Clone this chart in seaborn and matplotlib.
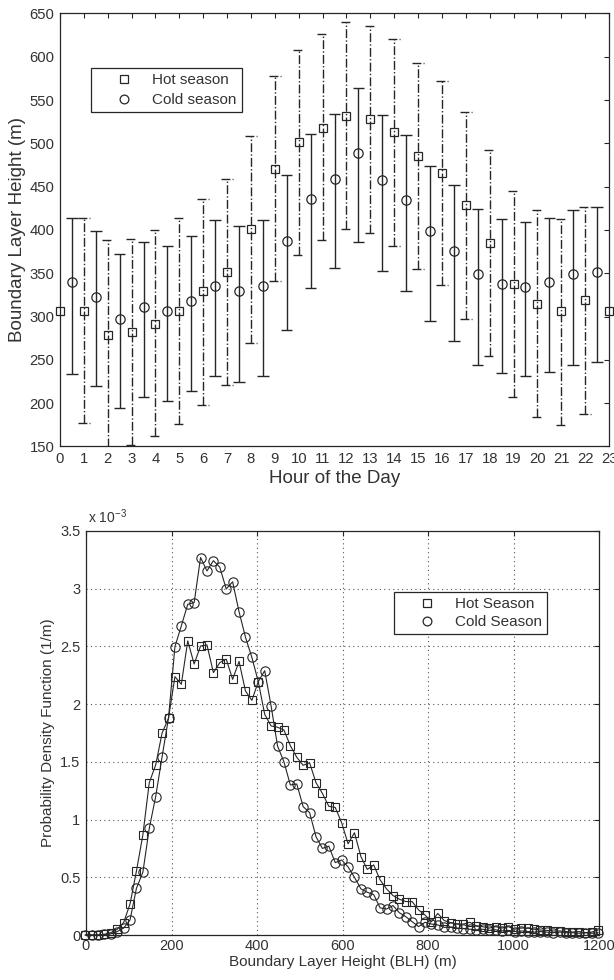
import numpy as np
import matplotlib
matplotlib.use("Agg")
import matplotlib.pyplot as plt
from matplotlib.lines import Line2D
from matplotlib.ticker import FuncFormatter
import seaborn as sns

nan = np.nan

# ---- Diurnal boundary layer height (m): mean and error-bar limits ----
hours_hot = list(range(24))
hot_mean = [306, 307, 279, 282, 292, 306, 329, 352, 401, 470, 502, 518,
            532, 528, 513, 486, 466, 429, 385, 338, 315, 306, 319, 307]
hot_low = [nan, 177, 149, 152, 162, 176, 198, 221, 270, 341, 371, 388,
           401, 397, 382, 355, 336, 297, 254, 207, 184, 175, 188, nan]
hot_high = [nan, 414, 388, 390, 400, 414, 436, 459, 508, 578, 608, 626,
            640, 636, 620, 593, 572, 536, 492, 445, 423, 413, 427, nan]

hours_cold = [h + 0.5 for h in range(23)]
cold_mean = [340, 323, 297, 311, 306, 318, 335, 330, 335, 387, 436, 459,
             489, 458, 435, 399, 376, 349, 338, 334, 340, 349, 352]
cold_low = [234, 220, 194, 207, 203, 214, 231, 225, 231, 284, 333, 356,
            386, 353, 330, 295, 272, 244, 235, 231, 236, 244, 248]
cold_high = [414, 399, 372, 386, 382, 393, 411, 405, 411, 463, 511, 534,
             564, 533, 510, 474, 452, 424, 413, 409, 414, 423, 427]

hour_ticks = list(range(24))
blh_ticks = list(range(150, 651, 50))

# ---- PDF of boundary layer height, in units of 1e-3 per metre ----
blh_bins = np.arange(-2, 1200, 15)
hot_pdf = [0.0,
           0.0, 0.0, 0.005, 0.02, 0.05, 0.107, 0.269, 0.555, 0.867, 1.32,
           1.473, 1.75, 1.878, 2.238, 2.172, 2.548, 2.348, 2.504, 2.513, 2.273,
           2.36, 2.39, 2.215, 2.37, 2.114, 2.033, 2.195, 1.912, 1.811, 1.80,
           1.776, 1.64, 1.54, 1.47, 1.492, 1.32, 1.227, 1.115, 1.105, 0.973,
           0.79, 0.886, 0.68, 0.568, 0.607, 0.477, 0.40, 0.342, 0.31, 0.29,
           0.289, 0.217, 0.173, 0.115, 0.187, 0.125, 0.107, 0.095, 0.095, 0.11,
           0.078, 0.072, 0.06, 0.072, 0.06, 0.072, 0.05, 0.06, 0.06, 0.05,
           0.043, 0.04, 0.035, 0.035, 0.03, 0.026, 0.03, 0.02, 0.025, 0.043]
cold_pdf = [0.0,
            0.0, 0.0, 0.005, 0.01, 0.03, 0.06, 0.13, 0.405, 0.543, 0.924,
            1.199, 1.545, 1.88, 2.498, 2.678, 2.865, 2.88, 3.27, 3.154, 3.243,
            3.186, 2.998, 3.06, 2.80, 2.58, 2.405, 2.195, 2.29, 1.984, 1.638,
            1.50, 1.30, 1.308, 1.112, 1.06, 0.852, 0.75, 0.77, 0.627, 0.65,
            0.59, 0.50, 0.40, 0.37, 0.35, 0.235, 0.225, 0.255, 0.193, 0.159,
            0.115, 0.073, 0.11, 0.095, 0.087, 0.066, 0.07, 0.06, 0.055, 0.05,
            0.045, 0.05, 0.04, 0.045, 0.035, 0.04, 0.03, 0.035, 0.03, 0.025,
            0.03, 0.025, 0.02, 0.025, 0.02, 0.02, 0.015, 0.02, 0.015, 0.02]
pdf_xticks = list(range(0, 1201, 200))
pdf_yticks = [0, 0.5, 1, 1.5, 2, 2.5, 3, 3.5]

# ---- style ----
sns.set_theme(style="white")
plt.rcParams["font.family"] = ["Liberation Sans", "DejaVu Sans"]
plt.rcParams["mathtext.default"] = "regular"

INK = "#262626"
TXT = "#333333"
MS = 6.3

fig = plt.figure(figsize=(6.14, 9.80), dpi=100)
ax1 = fig.add_axes([60 / 614, (980 - 446.5) / 980, 549 / 614, 433 / 980])
ax2 = fig.add_axes([86 / 614, (980 - 935) / 980, 513 / 614, 404 / 980])


def style_axes(ax, labelsize, xpad=4):
    ax.tick_params(direction="in", top=True, right=True, length=3.6,
                   width=0.8, colors=INK, labelcolor=TXT,
                   labelsize=labelsize, pad=4)
    ax.tick_params(axis="x", pad=xpad)
    for sp in ax.spines.values():
        sp.set_visible(True)
        sp.set_color(INK)
        sp.set_linewidth(0.9)


# ---- top panel: hourly means with error bars ----
cap = 0.24
hx = np.array(hours_hot, float)
cx = np.array(hours_cold, float)
ax1.vlines(hx, hot_low, hot_high, colors=INK, linestyles="-.", lw=1.0, zorder=2)
ax1.hlines(hot_low, hx - cap, hx + cap, colors=INK, linestyles="-.", lw=1.0, zorder=2)
ax1.hlines(hot_high, hx - cap, hx + cap, colors=INK, linestyles="-.", lw=1.0, zorder=2)
ax1.vlines(cx, cold_low, cold_high, colors=INK, linestyles="-", lw=1.0, zorder=2)
ax1.hlines(cold_low, cx - cap, cx + cap, colors=INK, linestyles="-", lw=1.0, zorder=2)
ax1.hlines(cold_high, cx - cap, cx + cap, colors=INK, linestyles="-", lw=1.0, zorder=2)

sns.lineplot(x=hours_hot, y=hot_mean, ax=ax1, marker="s", linestyle="",
             markersize=MS, markerfacecolor="none", markeredgecolor=INK,
             markeredgewidth=0.9, color=INK, clip_on=False, zorder=3)
sns.lineplot(x=hours_cold, y=cold_mean, ax=ax1, marker="o", linestyle="",
             markersize=MS + 0.4, markerfacecolor="none", markeredgecolor=INK,
             markeredgewidth=0.9, color=INK, clip_on=False, zorder=3)

ax1.set_xlim(0, 23)
ax1.set_ylim(150, 650)
ax1.set_xticks(hour_ticks)
ax1.set_yticks(blh_ticks)
style_axes(ax1, 10.7)
ax1.set_xlabel("Hour of the Day", fontsize=13.5, color=TXT)
ax1.set_ylabel("Boundary Layer Height (m)", fontsize=13.5, color=TXT)
ax1.xaxis.set_label_coords(0.5, -0.055)
ax1.yaxis.set_label_coords(-0.062, 0.5)


def marker_handles():
    return [Line2D([], [], marker="s", ls="none", ms=MS, mfc="none",
                   mec=INK, mew=0.9),
            Line2D([], [], marker="o", ls="none", ms=MS, mfc="none",
                   mec=INK, mew=0.9)]


leg1 = ax1.legend(marker_handles(), ["Hot season", "Cold season"],
                  loc="upper left", bbox_to_anchor=(31 / 549, (446.5 - 68) / 433),
                  borderaxespad=0, frameon=True, fancybox=False, framealpha=1,
                  edgecolor=INK, fontsize=11, handlelength=3.7,
                  handletextpad=0.0, borderpad=0.32, labelspacing=0.4,
                  numpoints=1)
leg1.get_frame().set_linewidth(0.9)
for t in leg1.get_texts():
    t.set_color(TXT)

# ---- bottom panel: probability density functions ----
sns.lineplot(x=blh_bins, y=hot_pdf, ax=ax2, marker="s", markersize=MS,
             markerfacecolor="none", markeredgecolor=INK, markeredgewidth=0.8,
             color=INK, lw=0.8, clip_on=False, zorder=3)
sns.lineplot(x=blh_bins, y=cold_pdf, ax=ax2, marker="o", markersize=MS + 0.4,
             markerfacecolor="none", markeredgecolor=INK, markeredgewidth=0.8,
             color=INK, lw=0.8, clip_on=False, zorder=3)

ax2.set_xlim(0, 1200)
ax2.set_ylim(0, 3.5)
ax2.set_xticks(pdf_xticks)
ax2.set_yticks(pdf_yticks)
ax2.yaxis.set_major_formatter(FuncFormatter(lambda v, _: f"{v:g}"))
ax2.grid(True, linestyle=(0, (1, 3)), color="#555555", lw=0.8)
ax2.set_axisbelow(True)
style_axes(ax2, 10.5, xpad=3)
ax2.set_xlabel("Boundary Layer Height (BLH) (m)", fontsize=11, color=TXT)
ax2.set_ylabel("Probability Density Function (1/m)", fontsize=11, color=TXT)
ax2.xaxis.set_label_coords(0.5, -0.049)
ax2.yaxis.set_label_coords(-0.060, 0.5)
ax2.text(0.004, 1.012, "x 10$^{-3}$", transform=ax2.transAxes,
         ha="left", va="bottom", fontsize=10, color=TXT)

leg2 = ax2.legend(marker_handles(), ["Hot Season", "Cold Season"],
                  loc="upper left", bbox_to_anchor=((394 - 86) / 513, (935 - 592) / 404),
                  borderaxespad=0, frameon=True, fancybox=False, framealpha=1,
                  edgecolor=INK, fontsize=11, handlelength=3.7,
                  handletextpad=0.0, borderpad=0.32, labelspacing=0.3,
                  numpoints=1)
leg2.get_frame().set_linewidth(0.9)
for t in leg2.get_texts():
    t.set_color(TXT)

fig.savefig("out.png", dpi=100, facecolor="white")
